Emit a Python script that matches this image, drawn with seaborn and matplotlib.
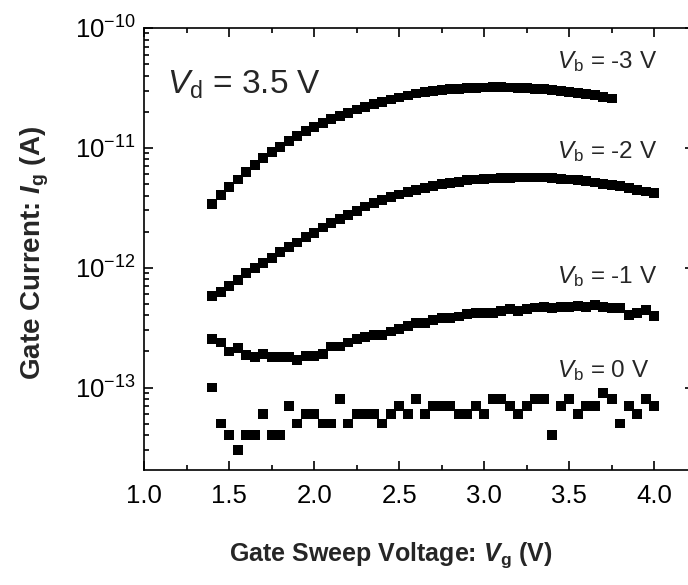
import numpy as np
import pandas as pd
import matplotlib
matplotlib.use("Agg")
import matplotlib.pyplot as plt
import matplotlib.ticker as mticker
import seaborn as sns

# gate sweep voltage (V), 0.05 V steps
vg_full = [round(1.40 + 0.05 * i, 2) for i in range(53)]
vg_m3 = vg_full[:48]          # Vb = -3 V stops at 3.75 V

# log10 of gate current (A)
log_ig_m3 = [-11.469, -11.394, -11.325, -11.264, -11.200, -11.144, -11.083, -11.033,
             -10.992, -10.942, -10.900, -10.860, -10.825, -10.790, -10.760, -10.733,
             -10.708, -10.680, -10.658, -10.636, -10.617, -10.597, -10.580, -10.564,
             -10.547, -10.535, -10.525, -10.517, -10.511, -10.506, -10.502, -10.499,
             -10.497, -10.496, -10.496, -10.497, -10.499, -10.502, -10.506, -10.511,
             -10.517, -10.524, -10.532, -10.541, -10.551, -10.562, -10.574, -10.588]
log_ig_m2 = [-12.236, -12.200, -12.150, -12.100, -12.047, -12.005, -11.963, -11.920,
             -11.867, -11.830, -11.790, -11.747, -11.708, -11.665, -11.630, -11.595,
             -11.560, -11.530, -11.490, -11.460, -11.435, -11.410, -11.390, -11.370,
             -11.350, -11.335, -11.320, -11.305, -11.293, -11.282, -11.272, -11.265,
             -11.260, -11.256, -11.253, -11.250, -11.248, -11.247, -11.247, -11.248,
             -11.252, -11.258, -11.265, -11.272, -11.280, -11.290, -11.300, -11.310,
             -11.320, -11.335, -11.350, -11.365, -11.380]
log_ig_m1 = [-12.597, -12.625, -12.700, -12.672, -12.727, -12.747, -12.722, -12.747,
             -12.747, -12.747, -12.770, -12.740, -12.740, -12.722, -12.658, -12.658,
             -12.625, -12.597, -12.580, -12.560, -12.560, -12.533, -12.513, -12.490,
             -12.460, -12.464, -12.436, -12.422, -12.417, -12.408, -12.389, -12.381,
             -12.375, -12.381, -12.361, -12.344, -12.361, -12.347, -12.333, -12.330,
             -12.339, -12.330, -12.330, -12.319, -12.330, -12.311, -12.330, -12.339,
             -12.339, -12.394, -12.375, -12.353, -12.400]
# Vb = 0 V, in units of 1e-14 A
ig_0 = [10, 5, 4, 3, 4, 4, 6, 4, 4, 7, 5, 6, 6, 5, 5, 8, 5, 6, 6, 6, 5, 6, 7, 6,
        8, 6, 7, 7, 7, 6, 6, 7, 6, 8, 8, 7, 6, 7, 8, 8, 4, 7, 8, 6, 7, 7, 9, 8,
        5, 7, 6, 8, 7]

series_names = ["-3 V", "-2 V", "-1 V", "0 V"]
y_major = [1e-13, 1e-12, 1e-11, 1e-10]

df = pd.concat([
    pd.DataFrame({"Vg": vg_m3, "Ig": 10 ** np.array(log_ig_m3), "Vb": "-3 V"}),
    pd.DataFrame({"Vg": vg_full, "Ig": 10 ** np.array(log_ig_m2), "Vb": "-2 V"}),
    pd.DataFrame({"Vg": vg_full, "Ig": 10 ** np.array(log_ig_m1), "Vb": "-1 V"}),
    pd.DataFrame({"Vg": vg_full, "Ig": np.array(ig_0) * 1e-14, "Vb": "0 V"}),
])

sns.set_style("ticks")
plt.rcParams["font.family"] = ["Liberation Sans", "DejaVu Sans"]
plt.rcParams["mathtext.fontset"] = "custom"
plt.rcParams["mathtext.rm"] = "Liberation Sans"
plt.rcParams["mathtext.it"] = "Liberation Sans:italic"
plt.rcParams["mathtext.bf"] = "Liberation Sans:bold"
plt.rcParams["mathtext.bfit"] = "Liberation Sans:italic:bold"
plt.rcParams["axes.unicode_minus"] = False

fig = plt.figure(figsize=(6.88, 5.85), dpi=100)
# right spine sits just past the image edge, like the reference
ax = fig.add_axes([0.2097, 0.1966, 0.7994, 0.7556])

sns.scatterplot(data=df, x="Vg", y="Ig", hue="Vb", hue_order=series_names,
                palette=["black"] * 4, marker="s", s=50, linewidth=0,
                legend=False, ax=ax)

ax.set_yscale("log")
ax.set_xlim(1.0, 4.235)
ax.set_ylim(2.05e-14, 1e-10)
ax.xaxis.set_major_locator(mticker.MultipleLocator(0.5))
ax.xaxis.set_minor_locator(mticker.MultipleLocator(0.25))
ax.xaxis.set_major_formatter(mticker.FormatStrFormatter("%.1f"))
ax.yaxis.set_major_locator(mticker.FixedLocator(y_major))
ax.yaxis.set_major_formatter(mticker.LogFormatterSciNotation())
ax.yaxis.set_minor_locator(mticker.LogLocator(base=10, subs=np.arange(2, 10), numticks=20))
ax.yaxis.set_minor_formatter(mticker.NullFormatter())

for s in ax.spines.values():
    s.set_linewidth(1.2)
    s.set_color("black")
ax.tick_params(which="both", direction="in", top=True, right=True, width=1.2, colors="black")
ax.tick_params(which="major", length=6.5, labelsize=18.5)
ax.tick_params(axis="x", which="major", pad=10)
ax.tick_params(axis="y", which="major", pad=6)
ax.tick_params(which="minor", length=3.5)

ax.set_xlabel(r"Gate Sweep Voltage: $\mathbfit{V}_\mathbf{g}$ (V)", fontsize=18, fontweight="bold")
ax.set_ylabel(r"Gate Current: $\mathbfit{I}_\mathbf{g}$ (A)", fontsize=20, fontweight="bold")
ax.xaxis.set_label_coords(0.449, -0.158)
ax.yaxis.set_label_coords(-0.169, 0.49)

ax.text(0.041, 0.851, r"$V_\mathrm{d}$ = 3.5 V", transform=ax.transAxes,
        fontsize=24, va="baseline", ha="left")
label_y = [0.909, 0.705, 0.4224, 0.211]
for name, yy in zip(series_names, label_y):
    ax.text(0.750, yy, r"$V_\mathrm{b}$ = " + name, transform=ax.transAxes,
            fontsize=17.5, va="baseline", ha="left")

fig.savefig("out.png", dpi=100)
